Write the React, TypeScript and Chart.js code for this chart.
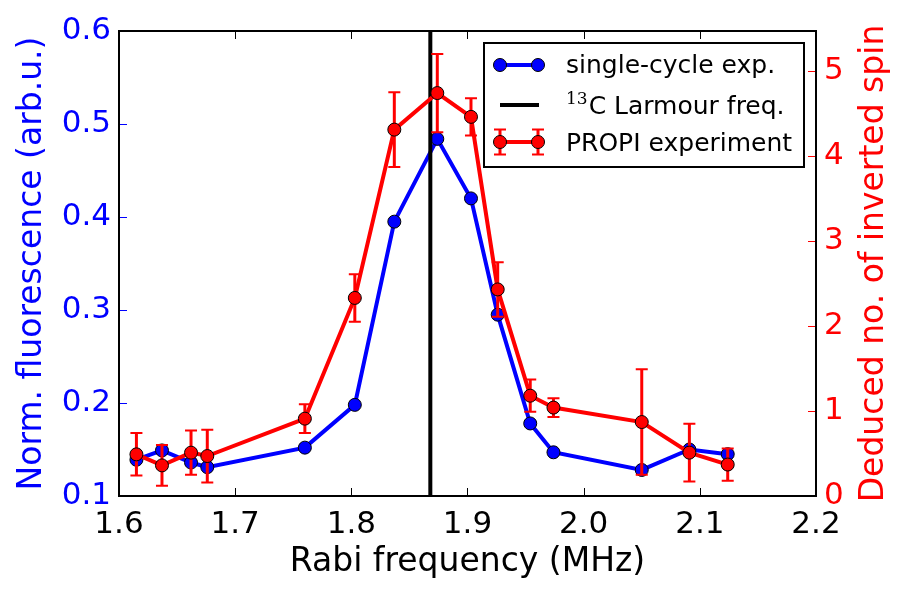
import { useEffect, useRef } from 'react';
import { Chart, registerables } from 'chart.js';

Chart.register(...registerables);

// Rabi frequency of each measurement (MHz)
const FREQ_MHZ = [1.615, 1.637, 1.662, 1.676, 1.760, 1.803, 1.837, 1.874, 1.903, 1.926, 1.954, 1.974, 2.050, 2.091, 2.124];
// Single-cycle experiment: normalised fluorescence (arb.u.)
const FLUORESCENCE = [0.139, 0.149, 0.136, 0.131, 0.152, 0.198, 0.395, 0.484, 0.420, 0.295, 0.178, 0.147, 0.128, 0.150, 0.145];
// PROPI experiment: deduced number of inverted spins and its uncertainty
const INVERTED_SPINS = [0.49, 0.36, 0.51, 0.47, 0.91, 2.33, 4.31, 4.74, 4.46, 2.43, 1.18, 1.04, 0.87, 0.51, 0.37];
const SPIN_ERRORS = [0.25, 0.24, 0.26, 0.31, 0.17, 0.28, 0.44, 0.46, 0.22, 0.32, 0.19, 0.11, 0.62, 0.34, 0.19];
// 13C Larmor frequency marker (MHz)
const LARMOR_FREQ = 1.868;

const FREQ_TICKS = [1.6, 1.7, 1.8, 1.9, 2.0, 2.1, 2.2];
const FLUOR_TICKS = [0.1, 0.2, 0.3, 0.4, 0.5, 0.6];
const SPIN_TICKS = [0, 1, 2, 3, 4, 5];
const FREQ_RANGE = [1.6, 2.2];
const FLUOR_RANGE = [0.1, 0.6];
const SPIN_RANGE = [0, 5.47];

const X_TITLE = 'Rabi frequency (MHz)';
const LEFT_TITLE = 'Norm. fluorescence (arb.u.)';
const RIGHT_TITLE = 'Deduced no. of inverted spin';
const LEGEND_LABELS = ['single-cycle exp.', 'C Larmour freq.', 'PROPI experiment'];
const LEGEND_SUPERSCRIPT = '13';

const BLUE = '#0000ff';
const RED = '#ff0000';
const BLACK = '#000000';
const FONT = 'DejaVu Sans';

function drawMarker(ctx: CanvasRenderingContext2D, x: number, y: number, fill: string) {
  ctx.beginPath();
  ctx.arc(x, y, 6.5, 0, Math.PI * 2);
  ctx.fillStyle = fill;
  ctx.fill();
  ctx.lineWidth = 1;
  ctx.strokeStyle = BLACK;
  ctx.stroke();
}

function drawErrorBar(ctx: CanvasRenderingContext2D, x: number, yTop: number, yBottom: number) {
  ctx.strokeStyle = RED;
  ctx.lineWidth = 3;
  ctx.beginPath();
  ctx.moveTo(x, yTop);
  ctx.lineTo(x, yBottom);
  ctx.stroke();
  ctx.lineWidth = 2;
  ctx.beginPath();
  ctx.moveTo(x - 6, yTop);
  ctx.lineTo(x + 6, yTop);
  ctx.moveTo(x - 6, yBottom);
  ctx.lineTo(x + 6, yBottom);
  ctx.stroke();
}

const decorations = {
  id: 'decorations',
  beforeDatasetDraw(chart: any, args: any) {
    if (args.index !== 0) return;
    const ctx: CanvasRenderingContext2D = chart.ctx;
    const xs = chart.scales.x;
    const ys = chart.scales.ySpin;
    ctx.save();
    FREQ_MHZ.forEach((f, i) => {
      const px = xs.getPixelForValue(f);
      drawErrorBar(
        ctx,
        px,
        ys.getPixelForValue(INVERTED_SPINS[i] + SPIN_ERRORS[i]),
        ys.getPixelForValue(INVERTED_SPINS[i] - SPIN_ERRORS[i]),
      );
    });
    ctx.restore();
  },
  afterDraw(chart: any) {
    const ctx: CanvasRenderingContext2D = chart.ctx;
    const { left, right, top, bottom } = chart.chartArea;
    const xs = chart.scales.x;
    const yl = chart.scales.yFluor;
    const yr = chart.scales.ySpin;
    const tickLen = 8;
    ctx.save();

    // inward tick marks
    ctx.lineWidth = 1;
    ctx.strokeStyle = BLACK;
    ctx.beginPath();
    FREQ_TICKS.forEach((v) => {
      const px = Math.round(xs.getPixelForValue(v)) + 0.5;
      ctx.moveTo(px, bottom);
      ctx.lineTo(px, bottom - tickLen);
      ctx.moveTo(px, top);
      ctx.lineTo(px, top + tickLen);
    });
    ctx.stroke();
    ctx.strokeStyle = BLUE;
    ctx.beginPath();
    FLUOR_TICKS.forEach((v) => {
      const py = Math.round(yl.getPixelForValue(v)) + 0.5;
      ctx.moveTo(left, py);
      ctx.lineTo(left + tickLen, py);
    });
    ctx.stroke();
    ctx.strokeStyle = RED;
    ctx.beginPath();
    SPIN_TICKS.forEach((v) => {
      const py = Math.round(yr.getPixelForValue(v)) + 0.5;
      ctx.moveTo(right, py);
      ctx.lineTo(right - tickLen, py);
    });
    ctx.stroke();

    // plot frame
    ctx.strokeStyle = BLACK;
    ctx.lineWidth = 2;
    ctx.strokeRect(left, top, right - left, bottom - top);

    // axis titles
    ctx.font = `33px "${FONT}"`;
    ctx.textBaseline = 'alphabetic';
    ctx.textAlign = 'center';
    ctx.fillStyle = BLACK;
    ctx.fillText(X_TITLE, (left + right) / 2, 571);

    const midY = (top + bottom) / 2;
    ctx.save();
    ctx.translate(41, midY);
    ctx.rotate(-Math.PI / 2);
    ctx.fillStyle = BLUE;
    ctx.fillText(LEFT_TITLE, 0, 0);
    ctx.restore();

    ctx.save();
    ctx.translate(883, midY);
    ctx.rotate(-Math.PI / 2);
    ctx.fillStyle = RED;
    ctx.fillText(RIGHT_TITLE, 0, 0);
    ctx.restore();

    // legend
    const lx = 484, ly = 43, lw = 320, lh = 124;
    ctx.fillStyle = '#ffffff';
    ctx.fillRect(lx, ly, lw, lh);
    ctx.strokeStyle = BLACK;
    ctx.lineWidth = 2;
    ctx.strokeRect(lx, ly, lw, lh);

    const h0 = 500, h1 = 538;
    const rows = [65, 105, 142];
    // single-cycle handle
    ctx.strokeStyle = BLUE;
    ctx.lineWidth = 4;
    ctx.beginPath();
    ctx.moveTo(h0, rows[0]);
    ctx.lineTo(h1, rows[0]);
    ctx.stroke();
    drawMarker(ctx, h0, rows[0], BLUE);
    drawMarker(ctx, h1, rows[0], BLUE);
    // Larmor line handle
    ctx.strokeStyle = BLACK;
    ctx.lineWidth = 4;
    ctx.beginPath();
    ctx.moveTo(h0, rows[1]);
    ctx.lineTo(h1 + 1, rows[1]);
    ctx.stroke();
    // PROPI handle
    ctx.strokeStyle = RED;
    ctx.lineWidth = 4;
    ctx.beginPath();
    ctx.moveTo(h0, rows[2]);
    ctx.lineTo(h1, rows[2]);
    ctx.stroke();
    drawErrorBar(ctx, h0, rows[2] - 12.5, rows[2] + 12.5);
    drawErrorBar(ctx, h1, rows[2] - 12.5, rows[2] + 12.5);
    drawMarker(ctx, h0, rows[2], RED);
    drawMarker(ctx, h1, rows[2], RED);

    ctx.fillStyle = BLACK;
    ctx.textAlign = 'left';
    ctx.font = `25px "${FONT}"`;
    ctx.fillText(LEGEND_LABELS[0], 566, 73);
    ctx.fillText(LEGEND_LABELS[2], 566, 151);
    ctx.font = `17px "DejaVu Serif"`;
    ctx.fillText(LEGEND_SUPERSCRIPT, 566, 104);
    const supW = ctx.measureText(LEGEND_SUPERSCRIPT).width;
    ctx.font = `25px "${FONT}"`;
    ctx.fillText(LEGEND_LABELS[1], 566 + supW + 1, 114);

    ctx.restore();
  },
};

export default function App() {
  const canvasRef = useRef<HTMLCanvasElement | null>(null);

  useEffect(() => {
    const canvas = canvasRef.current;
    if (!canvas) return;
    const tickFont = { family: FONT, size: 31 };
    const chart = new Chart(canvas, {
      type: 'line',
      data: {
        datasets: [
          {
            label: LEGEND_LABELS[2],
            data: FREQ_MHZ.map((f, i) => ({ x: f, y: INVERTED_SPINS[i] })),
            yAxisID: 'ySpin',
            borderColor: RED,
            backgroundColor: RED,
            borderWidth: 4,
            pointRadius: 6.5,
            pointBackgroundColor: RED,
            pointBorderColor: BLACK,
            pointBorderWidth: 1,
            tension: 0,
            order: 0,
          },
          {
            label: LEGEND_SUPERSCRIPT + LEGEND_LABELS[1],
            data: [
              { x: LARMOR_FREQ, y: FLUOR_RANGE[0] },
              { x: LARMOR_FREQ, y: FLUOR_RANGE[1] },
            ],
            yAxisID: 'yFluor',
            borderColor: BLACK,
            borderWidth: 4,
            pointRadius: 0,
            order: 1,
          },
          {
            label: LEGEND_LABELS[0],
            data: FREQ_MHZ.map((f, i) => ({ x: f, y: FLUORESCENCE[i] })),
            yAxisID: 'yFluor',
            borderColor: BLUE,
            backgroundColor: BLUE,
            borderWidth: 4,
            pointRadius: 6.5,
            pointBackgroundColor: BLUE,
            pointBorderColor: BLACK,
            pointBorderWidth: 1,
            tension: 0,
            order: 2,
          },
        ],
      },
      options: {
        animation: false,
        responsive: false,
        devicePixelRatio: 1,
        layout: { padding: { top: 31, left: 0, right: 0, bottom: 0 } },
        plugins: { legend: { display: false }, tooltip: { enabled: false } },
        scales: {
          x: {
            type: 'linear',
            position: 'bottom',
            min: FREQ_RANGE[0],
            max: FREQ_RANGE[1],
            afterBuildTicks: (s: any) => { s.ticks = FREQ_TICKS.map((v) => ({ value: v })); },
            afterFit: (s: any) => { s.height = 99; },
            grid: { display: false, drawTicks: false },
            border: { display: false },
            ticks: {
              color: BLACK,
              font: tickFont,
              padding: 10,
              maxRotation: 0,
              autoSkip: false,
              callback: (v: any) => Number(v).toFixed(1),
            },
          },
          yFluor: {
            type: 'linear',
            position: 'left',
            min: FLUOR_RANGE[0],
            max: FLUOR_RANGE[1],
            afterBuildTicks: (s: any) => { s.ticks = FLUOR_TICKS.map((v) => ({ value: v })); },
            afterFit: (s: any) => { s.width = 119; },
            grid: { display: false, drawTicks: false },
            border: { display: false },
            ticks: {
              color: BLUE,
              font: tickFont,
              padding: 8,
              callback: (v: any) => Number(v).toFixed(1),
            },
          },
          ySpin: {
            type: 'linear',
            position: 'right',
            min: SPIN_RANGE[0],
            max: SPIN_RANGE[1],
            afterBuildTicks: (s: any) => { s.ticks = SPIN_TICKS.map((v) => ({ value: v })); },
            afterFit: (s: any) => { s.width = 88; },
            grid: { display: false, drawTicks: false },
            border: { display: false },
            ticks: {
              color: RED,
              font: tickFont,
              padding: 8,
              callback: (v: any) => String(Math.round(Number(v))),
            },
          },
        },
      },
      plugins: [decorations],
    } as any);
    return () => chart.destroy();
  }, []);

  return (
    <div style={{ position: 'absolute', left: 0, top: 0, width: 904, height: 595, background: '#ffffff' }}>
      <canvas ref={canvasRef} width={904} height={595} />
    </div>
  );
}
